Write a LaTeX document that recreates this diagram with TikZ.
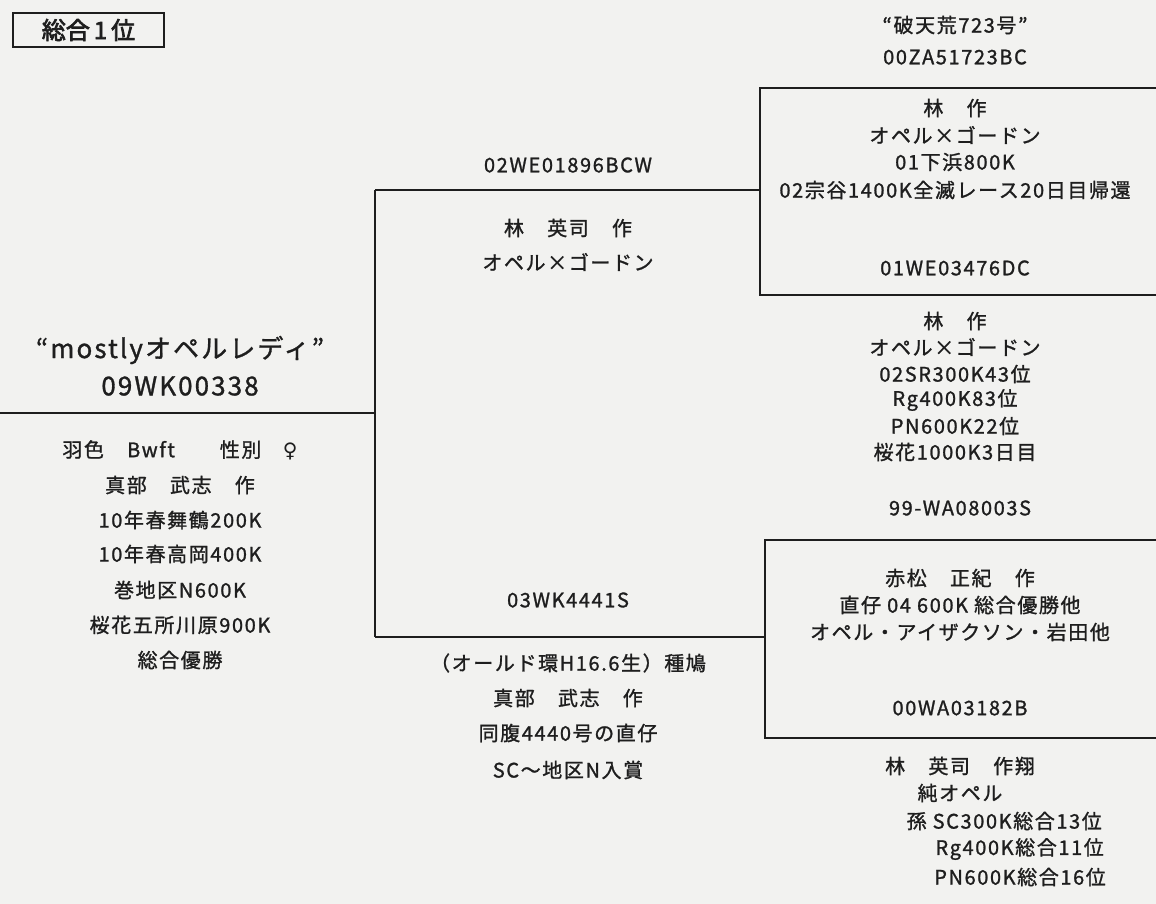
\documentclass[tikz,border=0pt]{standalone}
\usepackage{fontspec}
\setmainfont{Noto Sans CJK JP}[LetterSpace=8,FakeBold=1.2]
\newfontfamily\symf{DejaVu Sans}
\newfontfamily\titlef{Noto Sans CJK JP}[FakeBold=3]
\definecolor{ink}{HTML}{1E1E1E}
\definecolor{paper}{HTML}{F2F2F0}
\begin{document}
\begin{tikzpicture}[x=1pt,y=-1pt,
  t/.style={text=ink,font=\fontsize{20}{22}\selectfont,inner sep=0pt},
  big/.style={text=ink,font=\fontsize{26}{28}\selectfont,inner sep=0pt},
  ln/.style={draw=ink,line width=2pt}]
\fill[paper] (0,0) rectangle (1156,904);
\useasboundingbox (0,0) rectangle (1156,904);
% lines
\coordinate (m0) at (0,413); \coordinate (m1) at (375,413);
\coordinate (v0) at (375,190); \coordinate (v1) at (375,637);
\coordinate (a1) at (760,190); \coordinate (b1) at (765,637);
\coordinate (at) at (760,88); \coordinate (ab) at (760,295);
\coordinate (atr) at (1156,88); \coordinate (abr) at (1156,295);
\coordinate (bt) at (765,540); \coordinate (bb) at (765,738);
\coordinate (btr) at (1156,540); \coordinate (bbr) at (1156,738);
\draw[ln] (m0)--(m1);
\draw[ln] (v0)--(v1);
\draw[ln] (v0)--(a1); \draw[ln] (v1)--(b1);
\draw[ln] (atr)--(at)--(ab)--(abr);
\draw[ln] (btr)--(bt)--(bb)--(bbr);
% title
\node[text=ink,draw=ink,line width=2pt,minimum width=151pt,minimum height=34pt,anchor=north west,font=\titlef\fontsize{24}{26}\selectfont] (title) at (12,12) {総合\,1\,位};
% main bird
\node[big] (n1) at (180,350) {“mostlyオペルレディ”};
\node[big] (n2) at (180,386) {09WK00338};
\node[t] (l1) at (180,450) {羽色　Bwft　　性別　{\symf ♀}};
\node[t] (l2) at (180,485) {真部　武志　作};
\node[t] (l3) at (180,520) {10年春舞鶴200K};
\node[t] (l4) at (180,554) {10年春高岡400K};
\node[t] (l5) at (180,590) {巻地区N600K};
\node[t] (l6) at (180,625) {桜花五所川原900K};
\node[t] (l7) at (180,660) {総合優勝};
% sire
\node[t] (s0) at (568,165) {02WE01896BCW};
\node[t] (s1) at (568,228) {林　英司　作};
\node[t] (s2) at (568,262) {オペル×ゴードン};
% dam
\node[t] (d0) at (568,600) {03WK4441S};
\node[t] (d1) at (568,663) {（オールド環H16.6生）種鳩};
\node[t] (d2) at (568,698) {真部　武志　作};
\node[t] (d3) at (568,733) {同腹4440号の直仔};
\node[t] (d4) at (568,770) {SC～地区N入賞};
% sire's sire
\node[t] (ss0) at (955,25) {“破天荒723号”};
\node[t] (ss1) at (955,57) {00ZA51723BC};
\node[t] (ss2) at (955,108) {林　作};
\node[t] (ss3) at (955,135) {オペル×ゴードン};
\node[t] (ss4) at (955,162) {01下浜800K};
\node[t] (ss5) at (955,190) {02宗谷1400K全滅レース20日目帰還};
% sire's dam
\node[t] (sd0) at (955,268) {01WE03476DC};
\node[t] (sd1) at (955,321) {林　作};
\node[t] (sd2) at (955,347) {オペル×ゴードン};
\node[t] (sd3) at (955,374) {02SR300K43位};
\node[t] (sd4) at (955,400) {Rg400K83位};
\node[t] (sd5) at (955,426) {PN600K22位};
\node[t] (sd6) at (955,452) {桜花1000K3日目};
% dam's sire
\node[t] (ds0) at (960,508) {99-WA08003S};
\node[t] (ds1) at (960,578) {赤松　正紀　作};
\node[t] (ds2) at (960,605) {直仔 04 600K 総合優勝他};
\node[t] (ds3) at (960,632) {オペル・アイザクソン・岩田他};
% dam's dam
\node[t] (dd0) at (960,708) {00WA03182B};
\node[t] (dd1) at (960,766) {林　英司　作翔};
\node[t] (dd2) at (960,793) {純オペル};
\node[t,anchor=east] (dd3) at (1102,821) {孫 SC300K総合13位};
\node[t,anchor=east] (dd4) at (1104,849) {Rg400K総合11位};
\node[t,anchor=east] (dd5) at (1106,877) {PN600K総合16位};
\end{tikzpicture}
\end{document}
